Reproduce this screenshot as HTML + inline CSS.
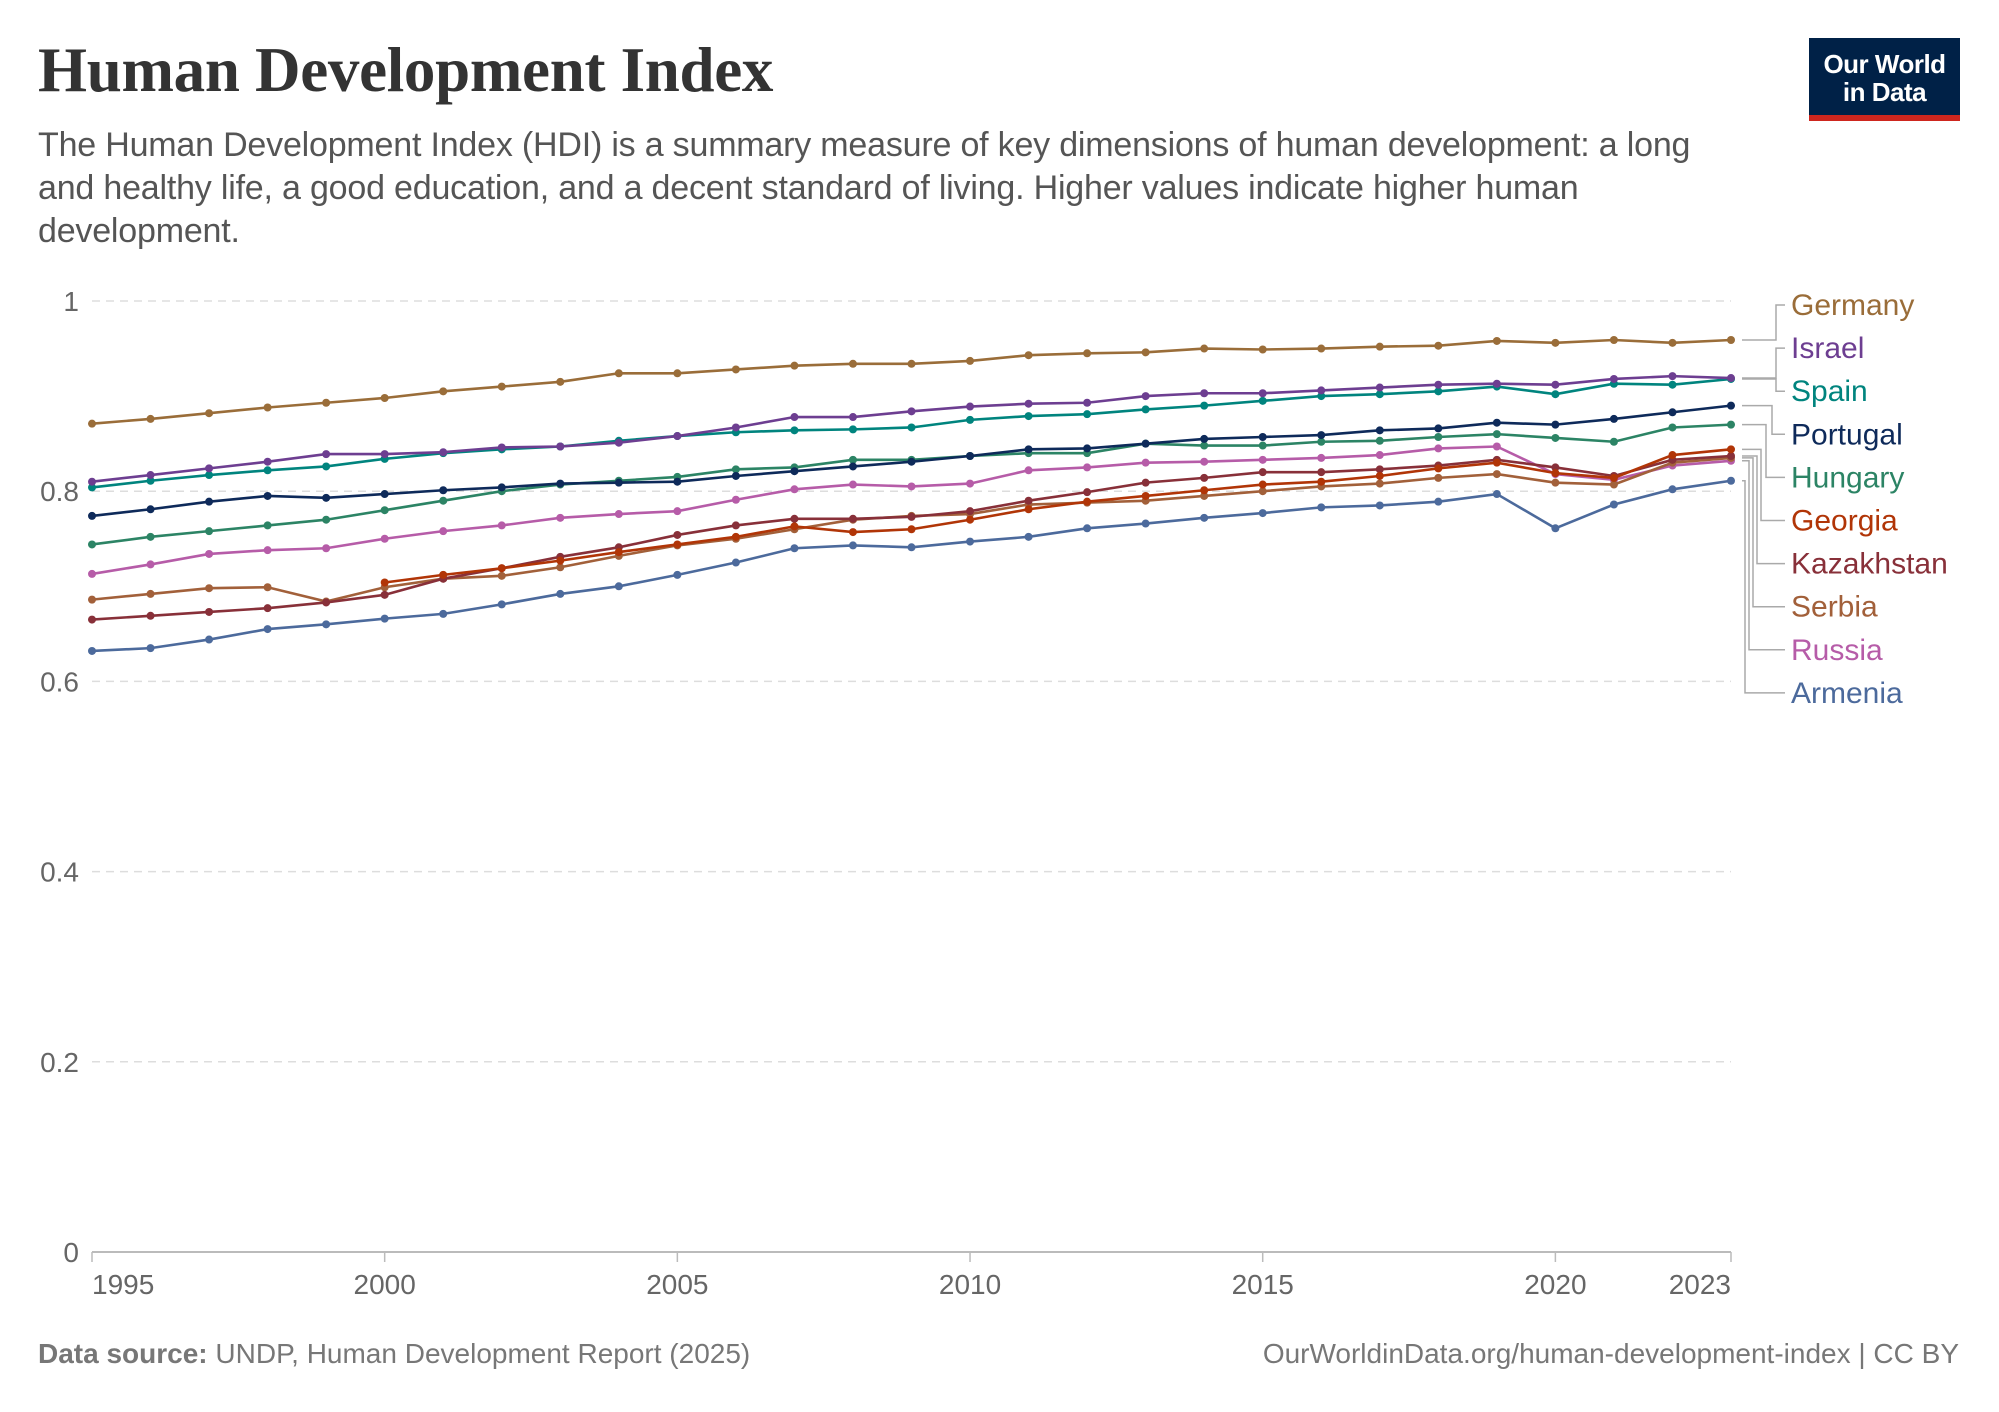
<!DOCTYPE html>
<html><head><meta charset="utf-8"><style>
body{margin:0;background:#fff;width:1999px;height:1412px;overflow:hidden;font-family:"Liberation Sans",sans-serif}
#t{position:absolute;left:38px;top:34px;font-family:"Liberation Serif",serif;font-size:63px;font-weight:bold;color:#333;letter-spacing:-0.3px}
#s{position:absolute;left:38px;top:124px;width:1800px;font-size:34px;line-height:43px;color:#555;letter-spacing:-0.2px;white-space:nowrap}
#logo{position:absolute;left:1809px;top:38px;width:151px;height:83px;background:#002147;color:#fff;font-size:26px;font-weight:bold;text-align:center;line-height:28px;box-sizing:border-box;padding-top:12px;border-bottom:6px solid #ce261e;letter-spacing:-0.5px}
.f{position:absolute;top:1338px;font-size:28px;color:#777}
</style></head><body>
<div id="t">Human Development Index</div>
<div id="s">The Human Development Index (HDI) is a summary measure of key dimensions of human development: a long<br>and healthy life, a good education, and a decent standard of living. Higher values indicate higher human<br>development.</div>
<div id="logo">Our World<br>in Data</div>
<div class="f" style="left:38px"><b>Data source:</b> UNDP, Human Development Report (2025)</div>
<div class="f" style="right:40px">OurWorldinData.org/human-development-index | CC BY</div>
<svg id="c" width="1999" height="1412" style="position:absolute;left:0;top:0"></svg>
<script>
const X=y=>92+(y-1995)*(1731-92)/28, Y=v=>1252-951*v;
let s='';
[0.2,0.4,0.6,0.8,1].forEach(v=>{s+=`<line x1="92" x2="1731" y1="${Y(v)}" y2="${Y(v)}" stroke="#ddd" stroke-width="1.5" stroke-dasharray="8,6"/>`;});
[0,0.2,0.4,0.6,0.8,1].forEach(v=>{s+=`<text x="79" y="${Y(v)+10}" text-anchor="end" font-size="28" fill="#666">${v}</text>`;});
s+=`<line x1="92" x2="1731" y1="1252" y2="1252" stroke="#bbb" stroke-width="2"/>`;
[1995,2000,2005,2010,2015,2020,2023].forEach(y=>{s+=`<line x1="${X(y)}" x2="${X(y)}" y1="1252" y2="1262" stroke="#bbb" stroke-width="1.5"/><text x="${y==1995?92:y==2023?1731:X(y)}" y="1294" text-anchor="${y==1995?'start':y==2023?'end':'middle'}" font-size="28" fill="#666">${y}</text>`;});
const D=[
["Germany","#9a6d39",1995,[.871,.876,.882,.888,.893,.898,.905,.910,.915,.924,.924,.928,.932,.934,.934,.937,.943,.945,.946,.950,.949,.950,.952,.953,.958,.956,.959,.956,.959],1776],
["Israel","#6d3e91",1995,[.810,.817,.824,.831,.839,.839,.841,.846,.847,.851,.858,.867,.878,.878,.884,.889,.892,.893,.900,.903,.903,.906,.909,.912,.913,.912,.918,.921,.919],1776],
["Spain","#00847e",1995,[.804,.811,.817,.822,.826,.834,.840,.844,.847,.853,.858,.862,.864,.865,.867,.875,.879,.881,.886,.890,.895,.900,.902,.905,.910,.902,.913,.912,.918],1776],
["Portugal","#0e2a5a",1995,[.774,.781,.789,.795,.793,.797,.801,.804,.808,.809,.810,.816,.821,.826,.831,.837,.844,.845,.850,.855,.857,.859,.864,.866,.872,.870,.876,.883,.890],1772],
["Hungary","#2c8465",1995,[.744,.752,.758,.764,.770,.780,.790,.800,.807,.811,.815,.823,.825,.833,.833,.837,.840,.840,.850,.848,.848,.852,.853,.857,.860,.856,.852,.867,.870],1766],
["Georgia","#b13507",2000,[.704,.712,.719,.727,.736,.744,.752,.763,.757,.760,.770,.781,.789,.795,.801,.807,.810,.816,.824,.830,.819,.814,.838,.844],1761],
["Kazakhstan","#883039",1995,[.665,.669,.673,.677,.683,.691,.708,.719,.731,.741,.754,.764,.771,.771,.773,.779,.790,.799,.809,.814,.820,.820,.823,.827,.833,.825,.816,.833,.837],1757],
["Serbia","#a2603a",1995,[.686,.692,.698,.699,.684,.699,.708,.711,.720,.732,.743,.750,.760,.770,.774,.776,.786,.788,.790,.795,.800,.805,.808,.814,.818,.809,.807,.830,.835],1753],
["Russia","#b65ca8",1995,[.713,.723,.734,.738,.740,.750,.758,.764,.772,.776,.779,.791,.802,.807,.805,.808,.822,.825,.830,.831,.833,.835,.838,.845,.847,.818,.812,.827,.832],1749],
["Armenia","#4c6a9c",1995,[.632,.635,.644,.655,.660,.666,.671,.681,.692,.700,.712,.725,.740,.743,.741,.747,.752,.761,.766,.772,.777,.783,.785,.789,.797,.761,.786,.802,.811],1745]];
D.slice().reverse().forEach(([n,c,st,v])=>{
 const p=v.map((d,i)=>[X(st+i),Y(d)]);
 s+=`<polyline points="${p.map(q=>q.join(',')).join(' ')}" fill="none" stroke="${c}" stroke-width="2.6"/>`;
 p.forEach(q=>s+=`<circle cx="${q[0]}" cy="${q[1]}" r="4" fill="${c}"/>`);
});
D.forEach(([n,c,st,v,bx],i)=>{
 const ly=305+i*43.1, ey=Y(v[v.length-1]);
 s+=`<polyline points="1742,${ey} ${bx},${ey} ${bx},${ly} 1785,${ly}" fill="none" stroke="#aaa" stroke-width="1.5"/>`;
 s+=`<text x="1791" y="${ly+10}" font-size="30" fill="${c}">${n}</text>`;
});
document.getElementById('c').innerHTML=s;
</script>
</body></html>
